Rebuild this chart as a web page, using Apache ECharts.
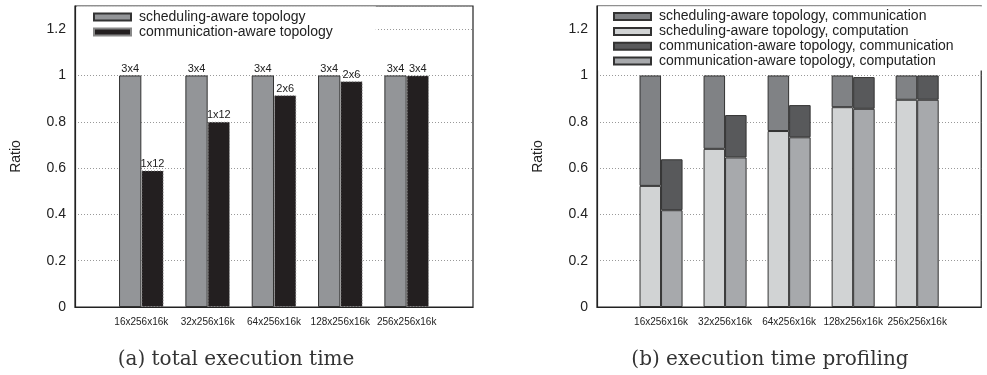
<!DOCTYPE html>
<html>
<head>
<meta charset="utf-8">
<script src="https://cdn.jsdelivr.net/npm/echarts@6/dist/echarts.min.js"></script>
<style>
  html, body { margin: 0; padding: 0; background: #fff; }
  #chart { width: 987px; height: 375px; }
</style>
</head>
<body>
<div id="chart"></div>
<script>
// Problem sizes on the x axis
const categories = ['16x256x16k', '32x256x16k', '64x256x16k', '128x256x16k', '256x256x16k'];

// (a) total execution time, normalised to the scheduling-aware run
const schedTotal = [1, 1, 1, 1, 1];
const commTotal = [0.59, 0.80, 0.915, 0.975, 1.0];
const schedTopo = ['3x4', '3x4', '3x4', '3x4', '3x4'];
const commTopo = ['1x12', '1x12', '2x6', '2x6', '3x4'];

// (b) breakdown into computation and communication
const schedComp = [0.523, 0.683, 0.76, 0.863, 0.895];
const schedComm = [0.477, 0.317, 0.24, 0.137, 0.105];
const commComp = [0.418, 0.646, 0.733, 0.856, 0.895];
const commComm = [0.22, 0.183, 0.139, 0.137, 0.105];

// one empty slot on each side of the groups
const pad = a => [null, ...a, null];
const xCats = [' ', ...categories, '  '];

const SANS = '"Liberation Sans", Arial, sans-serif';
const INK = '#222';

function xAxisFor(gi) {
  return {
    type: 'category', gridIndex: gi, data: xCats, boundaryGap: false,
    axisLine: { show: true, lineStyle: { color: INK, width: 1.2 } },
    axisTick: { show: false },
    axisLabel: { fontSize: 10, color: INK, fontFamily: SANS, margin: 10, interval: 0 },
    splitLine: { show: false }
  };
}
function yAxisFor(gi) {
  return {
    type: 'value', gridIndex: gi, min: 0, max: 1.3, interval: 0.2,
    name: 'Ratio', nameLocation: 'middle', nameGap: 52,
    nameTextStyle: { fontSize: 14, color: INK, fontFamily: SANS },
    axisLine: { show: true, lineStyle: { color: INK, width: 1.2 } },
    axisTick: { show: false },
    axisLabel: {
      fontSize: 14, color: INK, fontFamily: SANS, margin: 9, showMaxLabel: false,
      formatter: v => (Math.abs(v - 1.3) < 1e-6 ? '' : String(+v.toFixed(1)))
    },
    splitLine: { show: true, lineStyle: { color: '#999', type: [1, 2], width: 1 } }
  };
}

const barW = '33.6%';
const edge = { borderColor: '#333', borderWidth: 1 };

const chart = echarts.init(document.getElementById('chart'), null, { renderer: 'canvas' });
chart.setOption({
  animation: false,
  backgroundColor: '#fff',
  grid: [
    { left: 75, top: 6, width: 398, height: 301, show: true, borderColor: INK, borderWidth: 1.2, backgroundColor: 'transparent' },
    { left: 597, top: 6, width: 398, height: 301, show: true, borderColor: INK, borderWidth: 1.2, backgroundColor: 'transparent' }
  ],
  xAxis: [xAxisFor(0), xAxisFor(1)],
  yAxis: [yAxisFor(0), yAxisFor(1)],
  legend: [
    {
      orient: 'vertical', left: 77, top: 6.5,
      padding: [3, 43, 2, 16], itemGap: 0,
      backgroundColor: '#fff',
      itemWidth: 37, itemHeight: 7, icon: 'rect',
      textStyle: { fontSize: 14, color: INK, fontFamily: SANS, lineHeight: 15, padding: [0, 0, 0, 3] },
      data: ['scheduling-aware topology', 'communication-aware topology']
    },
    {
      orient: 'vertical', left: 598, top: 6.2,
      padding: [3, 40, 2, 15], itemGap: 0,
      backgroundColor: '#fff',
      itemWidth: 37, itemHeight: 7, icon: 'rect',
      textStyle: { fontSize: 14, color: INK, fontFamily: SANS, lineHeight: 14.8, padding: [0, 0, 0, 3] },
      data: [
        'scheduling-aware topology, communication',
        'scheduling-aware topology, computation',
        'communication-aware topology, communication',
        'communication-aware topology, computation'
      ]
    }
  ],
  series: [
    {
      name: 'scheduling-aware topology', type: 'bar', xAxisIndex: 0, yAxisIndex: 0,
      data: pad(schedTotal), barWidth: barW, barGap: '0%',
      itemStyle: Object.assign({ color: '#939598' }, edge),
      label: {
        show: true, position: 'top', distance: 1, fontSize: 11, color: INK, fontFamily: SANS,
        formatter: p => schedTopo[p.dataIndex - 1]
      }
    },
    {
      name: 'communication-aware topology', type: 'bar', xAxisIndex: 0, yAxisIndex: 0,
      data: pad(commTotal), barWidth: barW, barGap: '0%',
      itemStyle: { color: '#231f20', borderColor: '#888', borderWidth: 1, borderType: [1, 2] },
      label: {
        show: true, position: 'top', distance: 1, fontSize: 11, color: INK, fontFamily: SANS,
        formatter: p => commTopo[p.dataIndex - 1]
      }
    },
    {
      name: 'scheduling-aware topology, computation', type: 'bar', xAxisIndex: 1, yAxisIndex: 1,
      stack: 'sched', data: pad(schedComp), barWidth: barW, barGap: '0%',
      itemStyle: Object.assign({ color: '#d1d3d4' }, edge)
    },
    {
      name: 'scheduling-aware topology, communication', type: 'bar', xAxisIndex: 1, yAxisIndex: 1,
      stack: 'sched', data: pad(schedComm), barWidth: barW, barGap: '0%',
      itemStyle: Object.assign({ color: '#808285' }, edge)
    },
    {
      name: 'communication-aware topology, computation', type: 'bar', xAxisIndex: 1, yAxisIndex: 1,
      stack: 'comm', data: pad(commComp), barWidth: barW, barGap: '0%',
      itemStyle: Object.assign({ color: '#a7a9ac' }, edge)
    },
    {
      name: 'communication-aware topology, communication', type: 'bar', xAxisIndex: 1, yAxisIndex: 1,
      stack: 'comm', data: pad(commComm), barWidth: barW, barGap: '0%',
      itemStyle: Object.assign({ color: '#58595b' }, edge)
    }
  ],
  graphic: [
    {
      type: 'text', x: 236, y: 360,
      style: { text: '(a) total execution time', font: '20px "DejaVu Serif", serif', fill: '#333', align: 'center', verticalAlign: 'middle' }
    },
    {
      type: 'text', x: 770, y: 360,
      style: { text: '(b) execution time profiling', font: '20px "DejaVu Serif", serif', fill: '#333', align: 'center', verticalAlign: 'middle' }
    }
  ]
});
</script>
</body>
</html>
